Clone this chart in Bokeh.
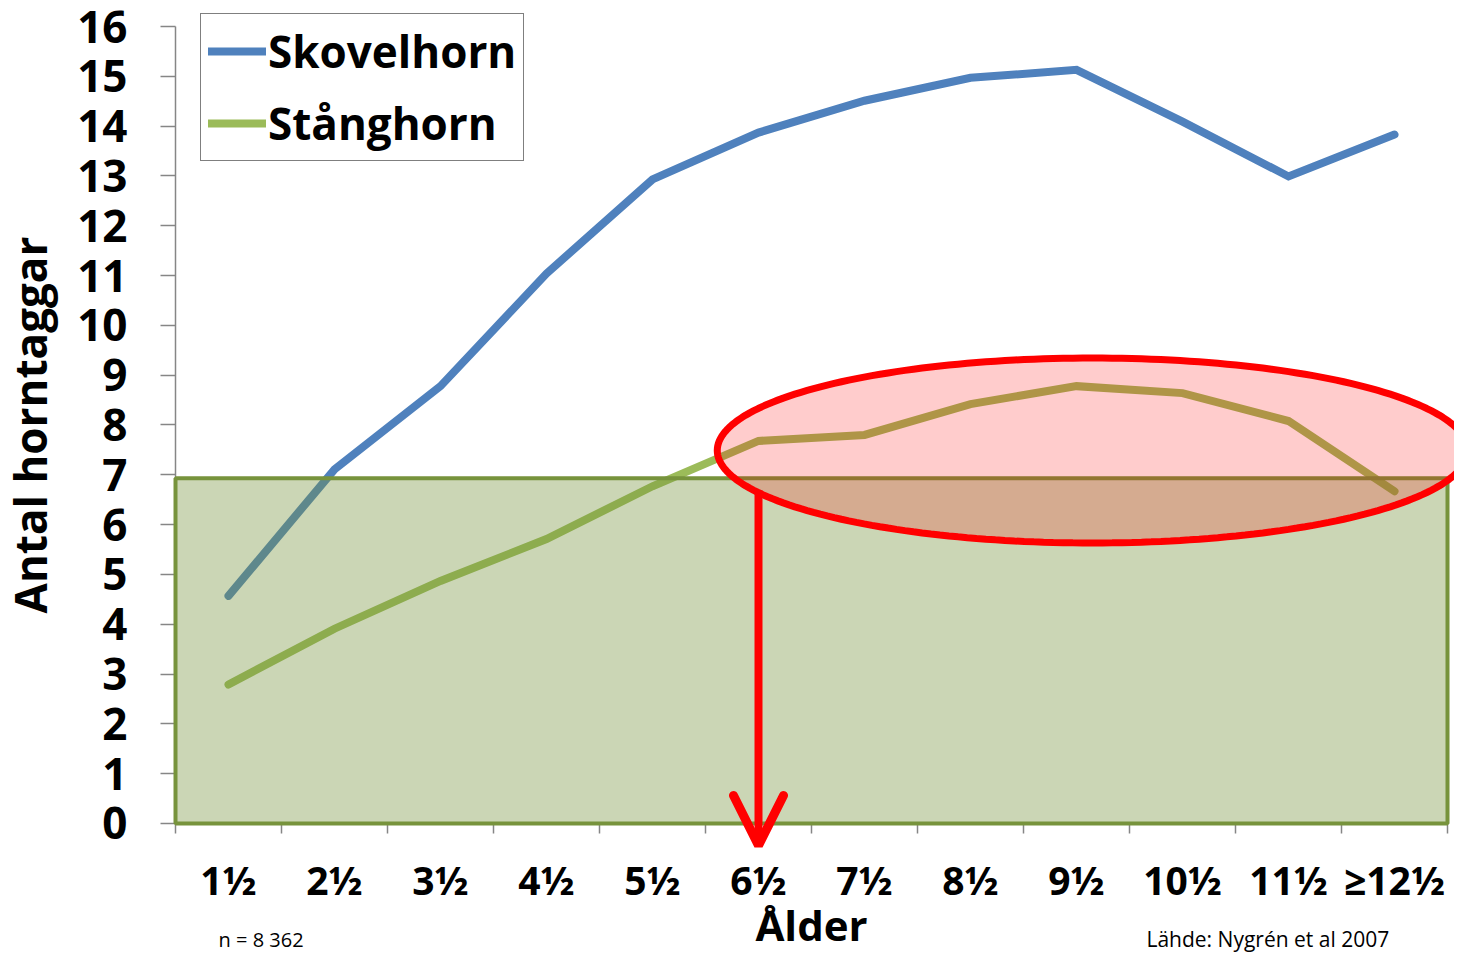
import math
from bokeh.plotting import figure
from bokeh.models import (Range1d, FixedTicker, Legend, LegendItem, BoxAnnotation,
                          PolyAnnotation, Arrow, OpenHead, Label)
from bokeh.embed import file_html
from bokeh.resources import INLINE

# ---- data ----
categories = ["1½", "2½", "3½", "4½", "5½", "6½", "7½", "8½", "9½", "10½", "11½", "≥12½"]
skovelhorn = [4.57, 7.11, 8.78, 11.04, 12.93, 13.87, 14.51, 14.97, 15.13, 14.09, 12.99, 13.83]
stanghorn = [2.79, 3.91, 4.87, 5.71, 6.77, 7.68, 7.80, 8.42, 8.78, 8.64, 8.08, 6.67]
y_ticks = list(range(0, 17))
threshold = 6.93
highlight_from = "6½"

FONT = "Open Sans"
n = len(categories)
x = [i + 0.5 for i in range(n)]

W, H = 1454, 953
# frame fills the canvas; axes are pinned at x=0 / y=0
p = figure(width=W, height=H, output_backend="svg", toolbar_location=None,
           x_range=Range1d(-1.651, 12.066), y_range=Range1d(-2.61, 16.522),
           min_border=0)
p.outline_line_color = None
p.grid.grid_line_color = None
p.background_fill_color = "white"
p.border_fill_color = "white"

# y axis
ya = p.yaxis[0]
ya.fixed_location = 0
ya.bounds = (0, 16)
ya.ticker = FixedTicker(ticks=y_ticks)
ya.axis_line_color = "#868686"
ya.axis_line_width = 1.5
ya.major_tick_line_color = "#868686"
ya.major_tick_line_width = 1.5
ya.major_tick_out = 15
ya.major_tick_in = 0
ya.minor_tick_line_color = None
ya.major_label_text_font = FONT
ya.major_label_text_font_style = "bold"
ya.major_label_text_font_size = "44px"
ya.major_label_text_color = "black"
ya.major_label_standoff = 33
ya.axis_label = "Antal horntaggar"
ya.axis_label_text_font = FONT
ya.axis_label_text_font_style = "bold"
ya.axis_label_text_font_size = "44px"
ya.axis_label_text_color = "black"
ya.axis_label_standoff = 14

# x axis: labels at centres, ticks at boundaries
xa = p.xaxis[0]
xa.fixed_location = 0
xa.bounds = (0, n)
xa.ticker = FixedTicker(ticks=x, minor_ticks=list(range(n + 1)))
xa.major_label_overrides = {v: c for v, c in zip(x, categories)}
xa.axis_line_color = "#868686"
xa.axis_line_width = 1.5
xa.major_tick_line_color = None
xa.major_tick_out = 0
xa.major_tick_in = 0
xa.minor_tick_line_color = "#868686"
xa.minor_tick_line_width = 1.5
xa.minor_tick_out = 10
xa.minor_tick_in = 0
xa.major_label_text_font = FONT
xa.major_label_text_font_style = "bold"
xa.major_label_text_font_size = "39px"
xa.major_label_text_color = "black"
xa.major_label_standoff = 20

# lines
blue = p.line(x, skovelhorn, line_color="#4F81BD", line_width=8, line_join="miter", line_cap="round")
green = p.line(x, stanghorn, line_color="#9BBB59", line_width=8, line_join="miter", line_cap="round")

# green box
p.add_layout(BoxAnnotation(left=0, right=n, bottom=0, top=threshold,
                           fill_color="#77933C", fill_alpha=0.38,
                           line_color="#77933C", line_width=4, line_alpha=1.0))

# ellipse highlight
cx, cy, rx, ry = 8.651, 7.488, 3.54, 1.857
ts = [2 * math.pi * k / 240 for k in range(240)]
p.add_layout(PolyAnnotation(xs=[cx + rx * math.cos(t) for t in ts],
                            ys=[cy + ry * math.sin(t) for t in ts],
                            fill_color="#FF0000", fill_alpha=0.2,
                            line_color="#FF0000", line_width=7, line_alpha=1.0))

# arrow
ax = x[categories.index(highlight_from)]
p.add_layout(Arrow(x_start=ax, y_start=6.685, x_end=ax, y_end=-0.44,
                   line_color="#FF0000", line_width=8,
                   end=OpenHead(size=50, line_color="#FF0000", line_width=9, line_cap="round")))

# legend
legend = Legend(items=[LegendItem(label="Skovelhorn", renderers=[blue]),
                       LegendItem(label="Stånghorn", renderers=[green])],
                location=(200, 792), orientation="vertical",
                label_text_font=FONT, label_text_font_style="bold",
                label_text_font_size="44px", label_text_color="black",
                glyph_width=58, glyph_height=60, label_height=60,
                label_standoff=2, spacing=12, padding=7, margin=0,
                border_line_color="black", border_line_width=1.5,
                background_fill_color="white", background_fill_alpha=1)
p.add_layout(legend)

# texts
p.add_layout(Label(x=6.0, y=-2.6, text="Ålder", text_align="center", text_baseline="bottom",
                   text_font=FONT, text_font_style="bold", text_font_size="42px", text_color="black"))
p.add_layout(Label(x=0.406, y=-2.6, text="n = 8 362", text_align="left", text_baseline="bottom",
                   text_font=FONT, text_font_size="20px", text_color="black"))
p.add_layout(Label(x=9.16, y=-2.6, text="Lähde: Nygrén et al 2007", text_align="left",
                   text_baseline="bottom",
                   text_font=FONT, text_font_size="21px", text_color="black"))

open("out.html", "w").write(file_html(p, INLINE))
